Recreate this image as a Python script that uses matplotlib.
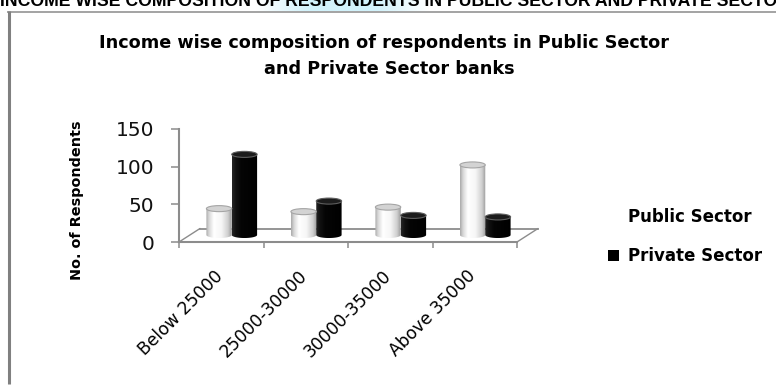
import numpy as np
import matplotlib
matplotlib.use("Agg")
import matplotlib.pyplot as plt
from matplotlib.patches import Polygon, Ellipse, Patch
from matplotlib.transforms import ScaledTranslation
from matplotlib.colors import LinearSegmentedColormap, to_rgb

# ---- data -------------------------------------------------------------
categories = ["Below 25000", "25000-30000", "30000-35000", "Above 35000"]
public_sector = [35, 31, 37, 93]
private_sector = [107, 45, 26, 24]
series_names = ["Public Sector", "Private Sector"]
y_ticks = [0, 50, 100, 150]

header = ("INCOME WISE COMPOSITION OF RESPONDENTS IN PUBLIC SECTOR "
          "AND PRIVATE SECTOR")
title_lines = ["Income wise composition of respondents in Public Sector",
               "and Private Sector banks"]
y_label = "No. of Respondents"

# ---- figure -----------------------------------------------------------
W, H, DPI = 776, 385, 100
fig = plt.figure(figsize=(W / DPI, H / DPI), dpi=DPI)
renderer = fig.canvas.get_renderer()


def fy(y):
    """Pixel row measured from the top -> figure fraction."""
    return 1 - y / H


def fit_width(text, target_px):
    w = text.get_window_extent(renderer=renderer).width
    text.set_fontsize(text.get_fontsize() * target_px / w)


# background layer: page header highlight and the chart frame
bg = fig.add_axes([0, 0, 1, 1], zorder=0)
prof = np.linspace(0, 1, 200)
alpha = np.clip(np.minimum(prof / 0.3, (1 - prof) / 0.3), 0, 1)
glow = np.zeros((1, 200, 4))
glow[..., :3] = to_rgb("#d2f2fb")
glow[..., 3] = alpha
bg.imshow(glow, extent=(255, 430, 11, 0), aspect="auto",
          interpolation="bilinear")
bg.plot([7, W], [11.5, 11.5], color="#8a8a8a", lw=1.1, solid_capstyle="butt")
bg.plot([8.5, 8.5], [11, 383.5], color="#808080", lw=2.2,
        solid_capstyle="butt")
bg.set_xlim(0, W)
bg.set_ylim(H, 0)
bg.axis("off")

head = fig.text(0.0, fy(6.5), header, family="Liberation Sans",
                weight="bold", fontsize=12, ha="left", va="baseline")
fit_width(head, 786)

t1 = fig.text(384 / W, fy(48.5), title_lines[0], family="DejaVu Sans",
              weight="bold", fontsize=12, ha="center", va="baseline")
fit_width(t1, 568)
fig.text(389 / W, fy(74.5), title_lines[1], family="DejaVu Sans",
         weight="bold", fontsize=t1.get_fontsize(), ha="center",
         va="baseline")

# ---- plot area (front plane of the 3-D floor) ---------------------------
ax_l, ax_r, ax_top, ax_bot = 179, 517, 129, 242
ax = fig.add_axes([ax_l / W, fy(ax_bot), (ax_r - ax_l) / W,
                   (ax_bot - ax_top) / H], zorder=2)
ax.patch.set_visible(False)
ax.set_xlim(0, len(categories))
ax.set_ylim(y_ticks[0], y_ticks[-1])

axis_grey = "#8c8c8c"
for side in ("top", "right"):
    ax.spines[side].set_visible(False)
for side in ("left", "bottom"):
    ax.spines[side].set_color(axis_grey)
    ax.spines[side].set_linewidth(1.5)

ax.set_yticks(y_ticks)
ax.tick_params(axis="y", direction="out", length=5.8, width=1.1,
               color=axis_grey, pad=12, labelsize=14.5, labelcolor="#111111")
ax.set_xticks(range(len(categories) + 1))
ax.set_xticklabels([])
ax.tick_params(axis="x", direction="out", length=4.3, width=1.1,
               color=axis_grey)

ax.set_ylabel(y_label, fontsize=10.4, fontweight="bold", va="center")
ax.yaxis.set_label_coords((77 - ax_l) / (ax_r - ax_l),
                          (ax_bot - 200) / (ax_bot - ax_top))

label_shift = ax.get_xaxis_transform() + ScaledTranslation(
    0.05, -0.25, fig.dpi_scale_trans)
for i, cat in enumerate(categories):
    ax.text(i + 0.5, 0, cat, transform=label_shift, rotation=45,
            ha="right", va="top", fontsize=12.3, color="black")


def shifted(dx_px, dy_px):
    return ax.transData + ScaledTranslation(dx_px / DPI, dy_px / DPI,
                                            fig.dpi_scale_trans)


# floor: back edge and the two depth edges
depth = (21, 13.5)
ax.plot([0, len(categories)], [0, 0], transform=shifted(*depth),
        color=axis_grey, lw=1.3, clip_on=False, zorder=1)
for x in (0, len(categories)):
    ax.annotate("", xy=(x, 0), xycoords="data",
                xytext=(depth[0] * 0.72, depth[1] * 0.72),
                textcoords="offset points",
                arrowprops=dict(arrowstyle="-", color=axis_grey, lw=1.0,
                                shrinkA=0, shrinkB=0), zorder=1)

# ---- cylinders ----------------------------------------------------------
bar_trans = shifted(10.5, 7)
bar_w = 0.3
ell_h = 8.0

public_cmap = LinearSegmentedColormap.from_list(
    "pub", [(0, "#a9a9a9"), (0.12, "#d8d8d8"), (0.3, "#ffffff"),
            (0.6, "#f6f6f6"), (0.85, "#cfcfcf"), (1, "#989898")])
private_cmap = LinearSegmentedColormap.from_list(
    "pri", [(0, "#262626"), (0.15, "#111111"), (0.35, "#050505"),
            (1, "#000000")])
styles = [
    dict(cmap=public_cmap, top="#d3d3d3", edge="#a5a5a5"),
    dict(cmap=private_cmap, top="#1c1c1c", edge="#5e5e5e"),
]


def cylinder(xc, value, style, z):
    x0, x1 = xc - bar_w / 2, xc + bar_w / 2
    t = np.linspace(np.pi, 2 * np.pi, 40)
    arc = np.column_stack([xc + bar_w / 2 * np.cos(t),
                           ell_h / 2 * np.sin(t)])
    outline = np.vstack([arc, [[x1, value], [x0, value]]])
    body = Polygon(outline, closed=True, transform=bar_trans,
                   facecolor="none", edgecolor="none", zorder=z)
    ax.add_patch(body)
    shade = style["cmap"](np.linspace(0, 1, 256))[None, :, :3]
    im = ax.imshow(shade, extent=(x0, x1, -ell_h / 2, value),
                   aspect="auto", interpolation="bilinear",
                   transform=bar_trans, zorder=z, clip_on=True)
    im.set_clip_path(body)
    ax.add_patch(Ellipse((xc, value), bar_w, ell_h, transform=bar_trans,
                         facecolor=style["top"], edgecolor=style["edge"],
                         lw=0.8, zorder=z + 0.1))


for i in range(len(categories)):
    centre = i + 0.5
    cylinder(centre - bar_w / 2, public_sector[i], styles[0], 3 + i * 0.01)
    cylinder(centre + bar_w / 2, private_sector[i], styles[1], 3.005 + i * 0.01)

ax.set_xlim(0, len(categories))
ax.set_ylim(y_ticks[0], y_ticks[-1])
ax.set_aspect("auto")

# ---- legend -------------------------------------------------------------
handles = [Patch(facecolor="white", edgecolor="none"),
           Patch(facecolor="black", edgecolor="none")]
fig.legend(handles, series_names, loc="upper left",
           bbox_to_anchor=(608 / W, fy(208)), frameon=False, borderpad=0,
           borderaxespad=0, handlelength=0.66, handleheight=0.66,
           handletextpad=0.55, labelspacing=1.28,
           prop=dict(family="DejaVu Sans", weight="bold", size=12))

fig.savefig("out.png", dpi=DPI)
